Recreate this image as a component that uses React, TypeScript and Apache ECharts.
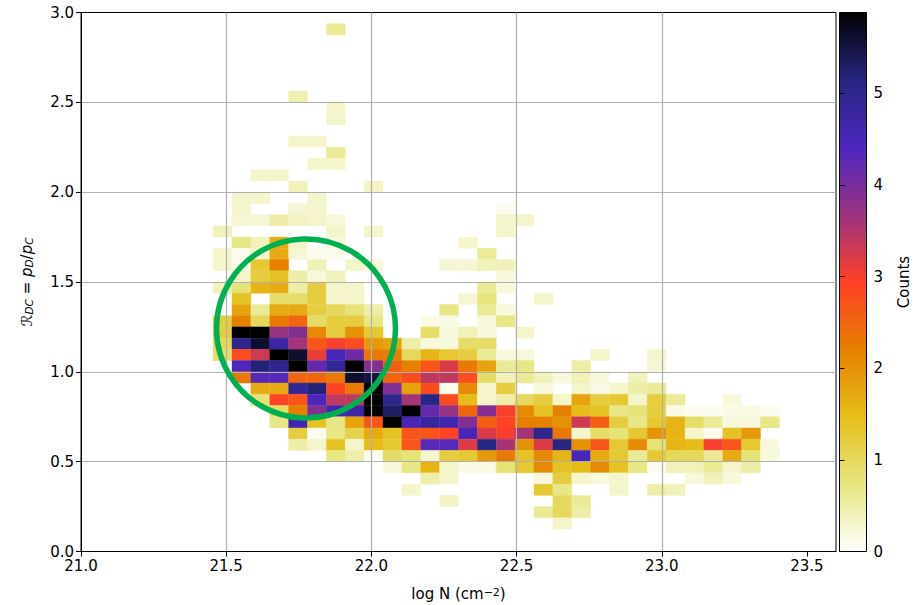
import React, { useEffect, useRef } from "react";
import * as echarts from "echarts";

const xTicks = [21, 21.5, 22, 22.5, 23, 23.5];
const yTicks = [0, 0.5, 1, 1.5, 2, 2.5, 3];
const barTicks = [0, 1, 2, 3, 4, 5];
const countMax = 5.88;
const xBinWidth = 0.065;
const yBinHeight = 0.0625;

// CMRmap_r stops, evenly spaced from 0 to countMax
const colormapStops = [
  [255, 255, 255], [230, 230, 128], [230, 191, 26], [230, 128, 0], [255, 64, 38],
  [153, 51, 128], [77, 38, 191], [38, 38, 128], [0, 0, 0],
];

// each row: its y-bin, the x-bin of its first value, its counts
const rowBins = [46, 40, 39, 38, 36, 35, 34, 33, 32, 31, 30, 29, 28, 27, 26, 25, 24, 23, 22, 21, 20, 19, 18, 17, 16, 15, 14, 13, 12, 11, 10, 9, 8, 7, 6, 5, 4, 3, 2];
const rowFirstColumn = [13, 11, 13, 13, 11, 13, 12, 9, 11, 8, 8, 8, 7, 8, 7, 7, 8, 7, 8, 8, 7, 7, 7, 7, 8, 8, 9, 9, 10, 10, 11, 11, 13, 16, 17, 17, 19, 24, 25];
const rowCounts = [
  [0.6],
  [0.45],
  [0.3],
  [0.3],
  [0.3, 0.3],
  [0.6],
  [0.3, 0.3],
  [0.3, 0.3],
  [0.4, 0, 0, 0, 0.35],
  [0.3, 0.3, 0, 0, 0.3],
  [0.3, 0, 0, 0.25, 0.3, 0, 0, 0, 0, 0, 0, 0, 0, 0, 0.1],
  [0.25, 0.25, 0.5, 0.35, 0.3, 0.2, 0, 0, 0, 0, 0, 0, 0, 0, 0.3, 0.3],
  [0.4, 0, 0, 0, 0, 0, 0.3, 0, 0.3, 0, 0, 0, 0, 0, 0, 0.3],
  [0.7, 0.4, 1.7, 0.3, 0, 0.2, 0, 0, 0, 0, 0, 0, 0.3],
  [0.3, 0.1, 0.3, 1.7, 0.25, 0.1, 0.1, 0, 0, 0, 0, 0, 0, 0, 0.6],
  [0.3, 0.1, 1.3, 2.2, 0, 0.4, 0, 0.3, 0.2, 0, 0, 0, 0.25, 0.25, 0.4, 0.4],
  [0.3, 1.2, 1.4, 0.5, 0.2, 0.4, 0, 0, 0, 0, 0, 0, 0, 0, 0.2],
  [0.4, 0.8, 1.6, 1.7, 0.5, 1.2, 0.3, 0.3, 0, 0, 0, 0, 0, 0, 0.6, 0.2],
  [1.4, 0, 0.9, 0.9, 1.2, 0.3, 0.3, 0, 0, 0, 0, 0, 0.25, 0.75, 0, 0, 0.3],
  [1.8, 0.6, 1.7, 1.7, 1.2, 1.0, 0.8, 0.5, 0, 0, 0, 0.7, 0, 0.6, 0.2],
  [1.2, 2.2, 1.0, 2.3, 2.5, 0.9, 1.2, 1.2, 0.7, 0, 0, 0.15, 0.15, 0, 0.2, 0.7],
  [1.2, 5.88, 5.88, 3.7, 3.9, 2.1, 1.2, 2.0, 1.3, 0, 0, 0.9, 0.2, 0.4, 0.2, 0, 0.3],
  [1.0, 5.0, 5.6, 4.7, 3.6, 2.7, 3.0, 2.8, 1.9, 1.8, 0.5, 0.2, 0.2, 0.9, 0.9],
  [0.9, 2.8, 3.3, 5.88, 5.6, 3.1, 4.5, 4.1, 2.3, 2.2, 1.0, 1.6, 1.3, 1.2, 0.6, 0.2, 0.2, 0, 0, 0, 0.3, 0, 0, 0.3],
  [4.4, 5.2, 5.0, 5.88, 4.2, 4.9, 5.88, 3.9, 2.6, 2.2, 2.7, 3.2, 2.3, 1.8, 0.6, 0.7, 0, 0, 0.5, 0, 0, 0, 0.25],
  [2.3, 4.3, 4.3, 2.5, 2.5, 2.3, 5.6, 5.5, 2.5, 2.8, 3.4, 3.4, 2.8, 0.9, 0.4, 0.6, 0.4, 0.2, 0.4, 0.2, 0, 0.4],
  [1.7, 1.7, 4.9, 5.2, 2.9, 2.3, 5.88, 3.9, 1.8, 2.8, 0.1, 2.1, 0.3, 1.2, 0, 0.2, 0, 0.3, 0.15, 0.3, 0.5, 0.6],
  [0.8, 2.9, 2.7, 4.4, 3.4, 3.4, 5.88, 5.0, 3.6, 5.1, 2.8, 1.5, 0.3, 0.5, 1.0, 1.2, 0.3, 1.8, 1.2, 1.3, 0.3, 1.2, 0.6, 0, 0, 0.2],
  [0.9, 2.2, 3.9, 4.6, 4.7, 5.88, 5.3, 5.88, 4.2, 3.7, 2.5, 3.9, 3.0, 2.1, 1.4, 2.2, 1.5, 1.4, 0.7, 0.8, 1.2, 0.15, 0.1, 0.1, 0.15, 0.15, 0.1],
  [0.7, 4.6, 1.4, 0.7, 1.8, 2.7, 5.88, 4.5, 4.8, 4.6, 3.9, 2.6, 2.9, 2.2, 2.2, 2.0, 3.3, 2.6, 1.2, 0.7, 1.3, 1.6, 0.9, 0.6, 0.2, 0.2, 0.7],
  [1.2, 0.1, 0.7, 1.1, 1.7, 1.4, 2.7, 2.7, 2.9, 4.5, 3.2, 3.0, 3.6, 5.0, 2.3, 0.3, 0.9, 0.8, 1.3, 2.0, 1.6, 0.3, 0.1, 1.4, 1.9],
  [0.5, 0.3, 1.4, 0.3, 1.5, 1.3, 2.7, 4.3, 4.3, 3.2, 5.1, 3.6, 2.0, 3.2, 5.1, 2.0, 2.7, 1.3, 2.1, 0.8, 1.6, 1.5, 3.0, 2.7, 1.3, 0.2],
  [0.7, 0.5, 0.1, 0.9, 0.8, 0.3, 1.2, 1.3, 1.9, 2.3, 1.4, 2.1, 1.6, 4.5, 1.7, 1.3, 0.6, 1.3, 1.0, 1.0, 0.6, 1.7, 0.8, 0.2],
  [0.2, 0.7, 1.6, 0.3, 0.15, 0.15, 0.8, 1.3, 2.1, 1.4, 1.5, 2.1, 1.4, 0.7, 0.1, 0.4, 0.4, 0.6, 0.3, 0.5],
  [0, 0.5, 0.3, 0, 0, 0, 0, 0.2, 1.2, 0.3, 0.2, 0.3, 0, 0, 0, 0.2, 0.4, 0.2],
  [0.3, 0, 0, 0, 0, 0, 0, 1.3, 0.7, 0, 0, 0.3, 0, 0.5, 0.4],
  [0.35, 0, 0, 0, 0, 0, 1.0, 0.6],
  [0.6, 1.0, 0.5],
  [0.3],
];

const cells: number[][] = [];
rowBins.forEach((j, r) => {
  rowCounts[r].forEach((v, i) => {
    if (v > 0) cells.push([rowFirstColumn[r] + i, j, v]);
  });
});

function countColor(v: number) {
  const t = (Math.min(v, countMax) / countMax) * (colormapStops.length - 1);
  const i = Math.min(Math.floor(t), colormapStops.length - 2);
  const f = t - i;
  const c = colormapStops[i].map((a, n) => Math.round(a + (colormapStops[i + 1][n] - a) * f));
  return `rgb(${c[0]},${c[1]},${c[2]})`;
}

const tickFont = { fontFamily: "DejaVu Sans", fontSize: 15, color: "#000" };
const sub = { fontFamily: "DejaVu Sans", fontSize: 10.5, fontStyle: "italic", color: "#000", verticalAlign: "bottom", lineHeight: 12, padding: [6, 0, 0, 0] };
const sup = { fontFamily: "DejaVu Sans", fontSize: 11, color: "#000", verticalAlign: "top", lineHeight: 12, padding: [0, 0, 6, 0] };
const ital = { fontFamily: "DejaVu Sans", fontSize: 15, fontStyle: "italic", color: "#000" };

export default function App() {
  const ref = useRef<HTMLDivElement>(null);
  useEffect(() => {
    const chart = echarts.init(ref.current!, null, { renderer: "svg" });
    chart.setOption({
      animation: false,
      backgroundColor: "#fff",
      grid: [
        { left: 81, top: 12.5, width: 755, height: 539, show: true, borderColor: "#000", borderWidth: 1, backgroundColor: "transparent", containLabel: false, outerBoundsMode: "none" },
        { left: 839.5, top: 12.5, width: 27, height: 539, outerBoundsMode: "none" },
      ],
      xAxis: [
        {
          gridIndex: 0, type: "value", min: 21, max: 23.6, interval: 0.5, z: 3,
          name: "{n|log N (cm}{u|−2}{n|)}", nameLocation: "middle", nameGap: 35,
          nameTextStyle: { rich: { n: { ...tickFont }, u: sup } },
          axisLine: { show: true, lineStyle: { color: "#000", width: 1 } },
          axisTick: { show: true, length: 5, lineStyle: { color: "#000" }, customValues: xTicks },
          axisLabel: { ...tickFont, margin: 7, formatter: (v: number) => v.toFixed(1), customValues: xTicks },
          splitLine: { show: true, showMinLine: false, showMaxLine: false, lineStyle: { color: "#b0b0b0", width: 1.2 } },
        },
        { gridIndex: 1, type: "value", min: 0, max: 1, show: false },
      ],
      yAxis: [
        {
          gridIndex: 0, type: "value", min: 0, max: 3, interval: 0.5, z: 3,
          name: "{i|ℛ}{s|DC}{n| = }{i|p}{s|D}{n|/}{i|p}{s|C}", nameLocation: "middle", nameGap: 47, nameRotate: 90,
          nameTextStyle: { rich: { i: ital, s: sub, n: { ...tickFont } } },
          axisLine: { show: true, lineStyle: { color: "#000", width: 1 } },
          axisTick: { show: true, length: 5, lineStyle: { color: "#000" }, customValues: yTicks },
          axisLabel: { ...tickFont, margin: 7, formatter: (v: number) => v.toFixed(1), customValues: yTicks },
          splitLine: { show: true, showMinLine: false, showMaxLine: false, lineStyle: { color: "#b0b0b0", width: 1.2 } },
        },
        {
          gridIndex: 1, type: "value", min: 0, max: countMax, position: "right", z: 3,
          name: "Counts", nameLocation: "middle", nameGap: 30, nameRotate: 90,
          nameTextStyle: { ...tickFont },
          axisLine: { show: false },
          axisTick: { show: true, length: 5, lineStyle: { color: "#000" }, customValues: barTicks },
          axisLabel: { ...tickFont, margin: 7, customValues: barTicks },
          splitLine: { show: false },
        },
      ],
      series: [
        {
          type: "custom", xAxisIndex: 0, yAxisIndex: 0, z: 1, silent: true,
          data: cells,
          encode: { x: 0, y: 1 },
          renderItem: (_: any, api: any) => {
            const k = api.value(0), j = api.value(1), v = api.value(2);
            const a = api.coord([21 + k * xBinWidth, (j + 1) * yBinHeight]);
            const b = api.coord([21 + (k + 1) * xBinWidth, j * yBinHeight]);
            const fill = countColor(v);
            return {
              type: "rect",
              shape: { x: a[0], y: a[1], width: b[0] - a[0], height: b[1] - a[1] },
              style: { fill, stroke: fill, lineWidth: 0.4 },
            };
          },
        },
        {
          type: "custom", xAxisIndex: 1, yAxisIndex: 1, z: 1, silent: true,
          data: [[0, 0, 1, countMax]],
          encode: { x: [0, 2], y: [1, 3] },
          renderItem: (_: any, api: any) => {
            const a = api.coord([api.value(0), api.value(3)]);
            const b = api.coord([api.value(2), api.value(1)]);
            return {
              type: "rect",
              shape: { x: a[0], y: a[1], width: b[0] - a[0], height: b[1] - a[1] },
              style: {
                fill: new echarts.graphic.LinearGradient(0, 1, 0, 0, colormapStops.map((_c, i) => ({
                  offset: i / (colormapStops.length - 1),
                  color: countColor((countMax * i) / (colormapStops.length - 1)),
                }))),
                stroke: "#000",
                lineWidth: 1,
              },
            };
          },
        },
      ],
      graphic: [
        {
          type: "circle", z: 100, silent: true,
          shape: { cx: 306, cy: 328.5, r: 89.5 },
          style: { fill: "none", stroke: "#00b050", lineWidth: 5.5 },
        },
      ],
    });
    return () => chart.dispose();
  }, []);
  return <div ref={ref} style={{ position: "fixed", left: 0, top: 0, width: 921, height: 605 }} />;
}
